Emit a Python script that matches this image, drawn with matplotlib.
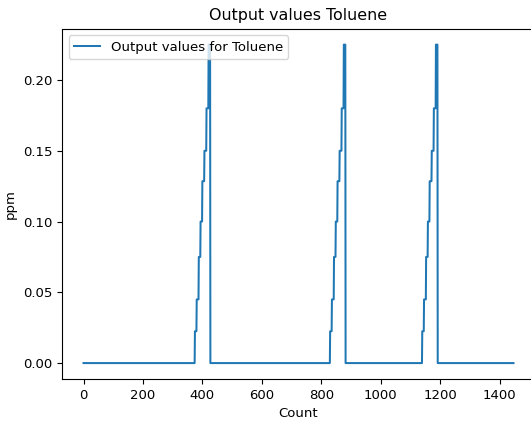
import matplotlib
matplotlib.use("Agg")
import matplotlib.pyplot as plt
import numpy as np

# values
n_points = 1448
peak_starts = [375, 830, 1140]
step_levels = [0.0225, 0.045, 0.075, 0.10, 0.1285, 0.15, 0.18, 0.225]
step_lengths = [6, 7, 6, 6, 7, 7, 7, 6]

toluene = np.zeros(n_points)
for start in peak_starts:
    ramp = np.repeat(step_levels, step_lengths)
    toluene[start:start + len(ramp)] = ramp

count = np.arange(n_points)

plt.rcParams['font.size'] = 9.5
fig = plt.figure(figsize=(5.31, 4.24), dpi=100)
ax = fig.add_axes([62 / 531, 1 - 379 / 424, (535 - 62) / 531, (379 - 28.7) / 424])

ax.plot(count, toluene, color='#1f77b4', linewidth=1.45, label='Output values for Toluene')
ax.set_title('Output values Toluene', fontsize=11.4)
ax.set_xlabel('Count')
ax.set_ylabel('ppm')
ax.set_xticks([0, 200, 400, 600, 800, 1000, 1200, 1400])
ax.legend(loc='upper left')

fig.savefig('out.png', dpi=100)
